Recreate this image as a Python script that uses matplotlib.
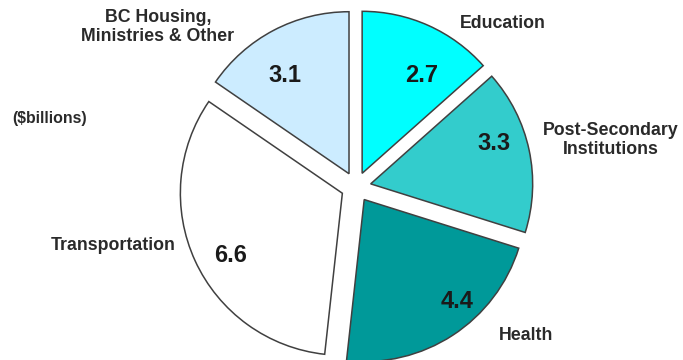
import matplotlib
matplotlib.use("Agg")
import matplotlib.pyplot as plt

# Capital spending by sector, $billions
sectors = [
    "Education",
    "Post-Secondary\nInstitutions",
    "Health",
    "Transportation",
    "BC Housing,\nMinistries & Other",
]
values = [2.7, 3.3, 4.4, 6.6, 3.1]
colors = ["#00FFFF", "#33CCCC", "#009999", "#FFFFFF", "#CCECFF"]

# label placement in pixel coordinates (y measured from the bottom)
name_pos = [(503, 337), (611, 220), (526, 25), (113, 115), (158, 333)]
value_pos = [(422, 285), (494, 217), (457, 58), (231, 105), (285, 285)]

plt.rcParams["font.family"] = ["Liberation Sans", "DejaVu Sans"]

W, H = 683, 360
fig = plt.figure(figsize=(W / 100, H / 100), dpi=100)
ax = fig.add_axes([0, 0, 1, 1])

# explode is an absolute offset in data units (pixels here)
ax.pie(
    values,
    colors=colors,
    startangle=90,
    counterclock=False,
    explode=[15] * len(values),
    center=(356, 173),
    radius=162,
    wedgeprops=dict(edgecolor="#404040", linewidth=1.1),
    frame=True,
)

ax.set_xlim(0, W)
ax.set_ylim(0, H)
ax.set_aspect("equal")
ax.axis("off")

for name, (x, y) in zip(sectors, name_pos):
    ax.text(x, y, name, ha="center", va="center", fontsize=12.8,
            fontweight="bold", color="#2a2a2a", linespacing=1.2)

for v, (x, y) in zip(values, value_pos):
    ax.text(x, y, f"{v:.1f}", ha="center", va="center", fontsize=17,
            fontweight="bold", color="#1a1a1a")

ax.text(50, 242, "($billions)", ha="center", va="center", fontsize=11.4,
        fontweight="bold", color="#2a2a2a")

fig.savefig("out.png", dpi=100)
